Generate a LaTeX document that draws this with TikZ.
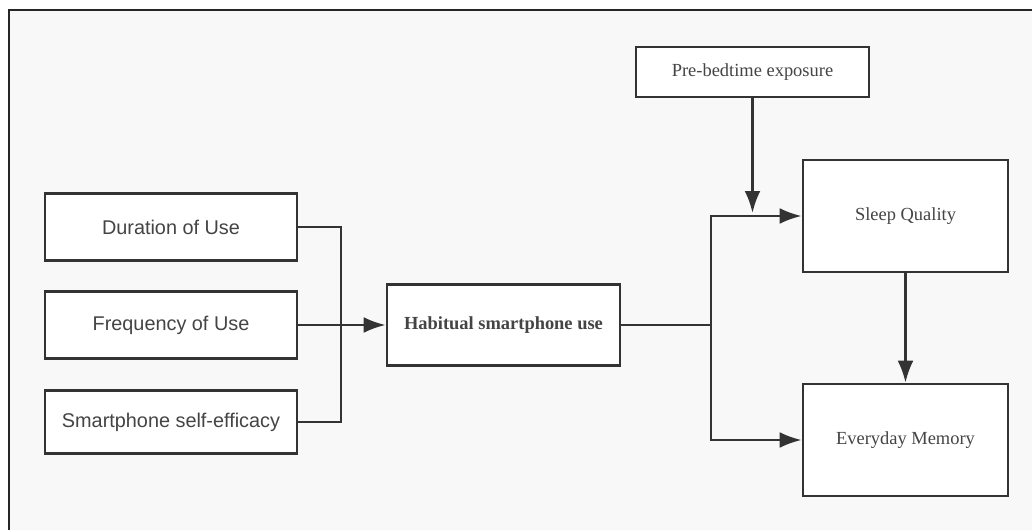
\documentclass[tikz,border=0pt]{standalone}
\usepackage{fontspec}
\setmainfont{Liberation Serif}
\newfontfamily\boxsans{Liberation Sans}
\usetikzlibrary{arrows.meta}
\definecolor{linegray}{HTML}{333333}
\definecolor{textgray}{HTML}{444444}
\definecolor{bggray}{HTML}{F8F8F8}
\tikzset{
  box/.style={draw=linegray, line width=1.5pt, fill=white, text=textgray, font=\fontsize{10.5}{12}\selectfont, inner sep=0pt},
  sansbox/.style={box, font=\boxsans\fontsize{11.3}{13}\selectfont},
  link/.style={draw=linegray, line width=1.5pt},
  arr/.style={link, -{Latex[length=12.5pt,width=9pt]}}
}
\begin{document}
\begin{tikzpicture}[x=0.02cm, y=-0.02cm]
\useasboundingbox (0,0) rectangle (1032,530);
% frame
\fill[bggray] (9,10) rectangle (1032,530);
\draw[black!85, line width=1.3pt] (9,530) -- (9,10) -- (1032,10);
% boxes
\node[sansbox, minimum width=5.04cm, minimum height=1.34cm] (dur) at (171,227) {Duration of Use};
\node[sansbox, minimum width=5.04cm, minimum height=1.34cm] (freq) at (171,325) {Frequency of Use};
\node[sansbox, minimum width=5.04cm, minimum height=1.26cm] (eff) at (171,422) {Smartphone self-efficacy};
\node[box, minimum width=4.66cm, minimum height=1.62cm, font=\bfseries\fontsize{10.5}{12}\selectfont] (hab) at (503.5,325) {Habitual smartphone use};
\node[box, minimum width=4.66cm, minimum height=1.0cm] (pre) at (752.5,72) {Pre-bedtime exposure};
\node[box, minimum width=4.1cm, minimum height=2.24cm] (sleep) at (905.5,216) {Sleep Quality};
\node[box, minimum width=4.1cm, minimum height=2.24cm] (mem) at (905.5,440) {Everyday Memory};
% joints
\coordinate (jl) at (341,325);
\coordinate (jr) at (711,325);
\coordinate (mod) at (752.5,213);
% arrows
\draw[link] (dur.east) -| (jl) |- (eff.east);
\draw[arr] (freq.east) -- (hab.west);
\draw[link] (hab.east) -- (jr);
\draw[arr] (jr) |- (sleep.west);
\draw[arr] (jr) |- (mem.west);
\draw[arr] (pre.south) -- (mod);
\draw[arr] (sleep.south) -- (mem.north);
\end{tikzpicture}
\end{document}
